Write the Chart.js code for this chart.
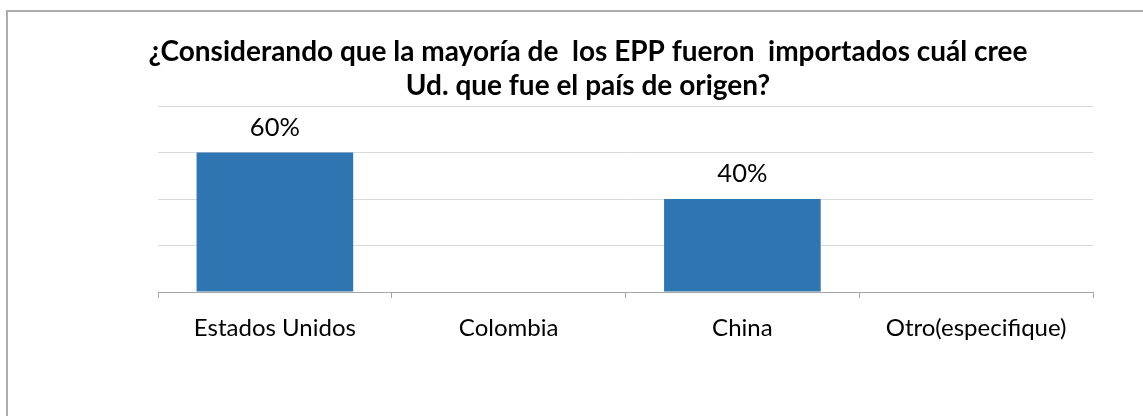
<!DOCTYPE html>
<html>
<head>
<meta charset="utf-8">
<script src="https://cdn.jsdelivr.net/npm/chart.js@4.4.1/dist/chart.umd.min.js"></script>
<style>
  html, body { margin: 0; padding: 0; background: #fff; overflow: hidden; }
  canvas { display: block; }
</style>
</head>
<body>
<canvas id="c" width="1143" height="416"></canvas>
<script>
const titleLines = ["¿Considerando que la mayoría de  los EPP fueron  importados cuál cree", "Ud. que fue el país de origen?"];
const categories = ["Estados Unidos", "Colombia", "China", "Otro(especifique)"];
const percentValues = [60, 0, 40, 0];
const yTicks = [0, 20, 40, 60, 80];

const FONT = "Lato, 'Open Sans', sans-serif";

const frameLines = {
  id: 'frameLines',
  beforeDraw(chart) {
    const ctx = chart.ctx;
    ctx.save();
    ctx.strokeStyle = '#acacac';
    ctx.lineWidth = 2;
    ctx.beginPath();
    ctx.moveTo(7, chart.height);
    ctx.lineTo(7, 11);
    ctx.lineTo(chart.width, 11);
    ctx.stroke();
    ctx.restore();
  }
};

const valueLabels = {
  id: 'valueLabels',
  afterDatasetsDraw(chart) {
    const ctx = chart.ctx;
    const meta = chart.getDatasetMeta(0);
    ctx.save();
    ctx.font = "25.5px " + FONT;
    ctx.fillStyle = "#000";
    ctx.textAlign = "center";
    ctx.textBaseline = "middle";
    meta.data.forEach((bar, i) => {
      const v = chart.data.datasets[0].data[i];
      if (v > 0) ctx.fillText(v + "%", bar.x, bar.y - 25);
    });
    ctx.restore();
  }
};

new Chart(document.getElementById('c'), {
  type: 'bar',
  data: {
    labels: categories,
    datasets: [{
      data: percentValues,
      backgroundColor: '#2f75b1',
      borderWidth: 0,
      categoryPercentage: 1,
      barPercentage: 0.67
    }]
  },
  options: {
    responsive: false,
    animation: false,
    devicePixelRatio: 1,
    layout: { padding: { left: 83, right: 50, top: 0, bottom: 44 } },
    plugins: {
      legend: { display: false },
      tooltip: { enabled: false },
      title: {
        display: true,
        text: titleLines,
        color: '#000',
        font: { family: FONT, size: 28, weight: 'bold', lineHeight: '34px' },
        padding: { top: 35, bottom: 3 }
      }
    },
    scales: {
      y: {
        min: yTicks[0],
        max: yTicks[yTicks.length - 1],
        afterBuildTicks: s => { s.ticks = yTicks.map(v => ({ value: v })); },
        ticks: { display: false },
        grid: { color: '#d9d9d9', drawTicks: false, lineWidth: 1 },
        border: { display: false },
        afterFit: s => { s.width = 75; }
      },
      x: {
        grid: { display: true, drawOnChartArea: false, drawTicks: true, tickLength: 6, color: '#a6a6a6', offset: true },
        border: { display: true, color: '#a6a6a6' },
        ticks: { color: '#000', font: { family: FONT, size: 24 }, padding: 16, maxRotation: 0 },
        afterFit: s => { s.height = 80; }
      }
    }
  },
  plugins: [frameLines, valueLabels]
});
</script>
</body>
</html>
